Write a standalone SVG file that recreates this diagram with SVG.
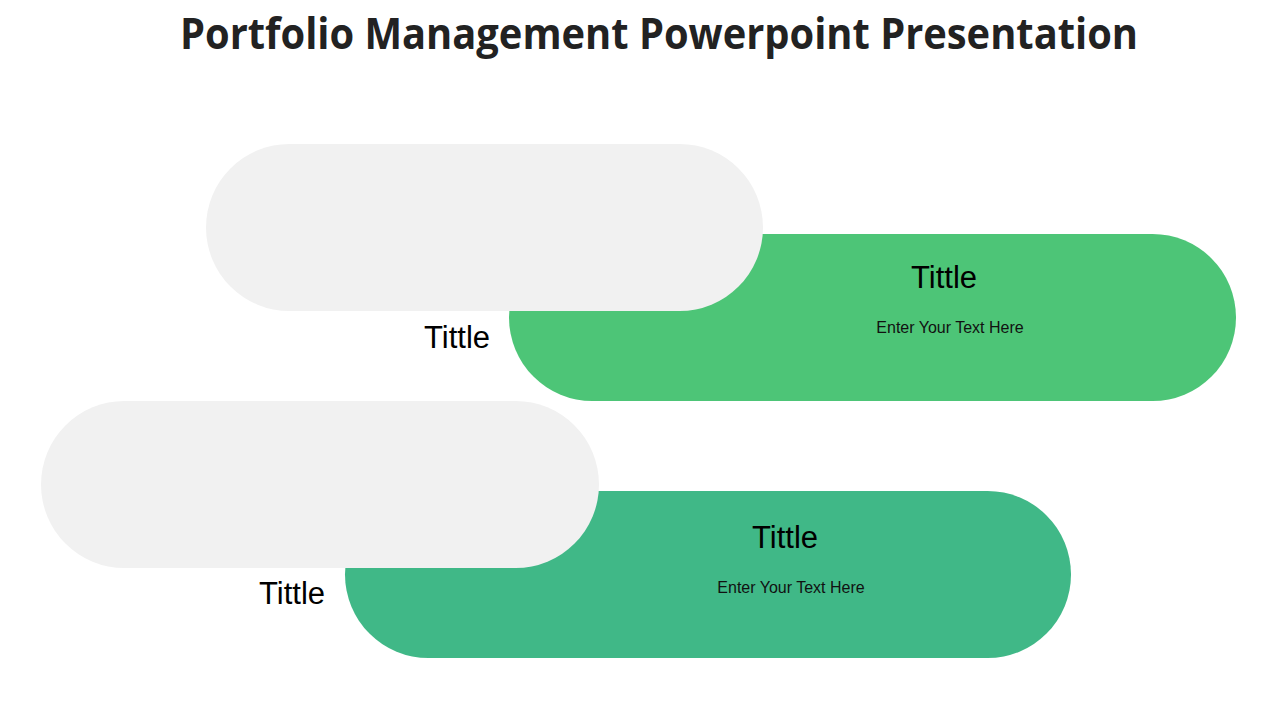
<svg xmlns="http://www.w3.org/2000/svg" width="1280" height="720" viewBox="0 0 1280 720">
<style>
.grey{fill:#F1F1F1}
.t{font-family:"Liberation Sans",Arial,sans-serif;font-size:31px;fill:#000}
.s{font-family:"Liberation Sans",Arial,sans-serif;font-size:16px;fill:#111}
</style>
<rect width="1280" height="720" fill="#fff"/>
<text x="659" y="49" text-anchor="middle" font-family="'Open Sans','Liberation Sans',sans-serif" font-weight="bold" font-size="43" fill="#222" textLength="958" lengthAdjust="spacingAndGlyphs">Portfolio Management Powerpoint Presentation</text>
<g id="node1">
<rect x="509" y="234" width="727" height="167" rx="83.5" fill="#4DC577"/>
<rect class="grey" x="206" y="144" width="557" height="167" rx="83.5"/>
<text class="t" x="944" y="288" text-anchor="middle">Tittle</text>
<text class="s" x="950" y="333" text-anchor="middle">Enter Your Text Here</text>
<text class="t" x="457" y="348" text-anchor="middle">Tittle</text>
</g>
<g id="node2">
<rect x="345" y="491" width="726" height="167" rx="83.5" fill="#40B887"/>
<rect class="grey" x="41" y="401" width="558" height="167" rx="83.5"/>
<text class="t" x="785" y="548" text-anchor="middle">Tittle</text>
<text class="s" x="791" y="593" text-anchor="middle">Enter Your Text Here</text>
<text class="t" x="292" y="604" text-anchor="middle">Tittle</text>
</g>
<g id="connectors"></g>
</svg>
